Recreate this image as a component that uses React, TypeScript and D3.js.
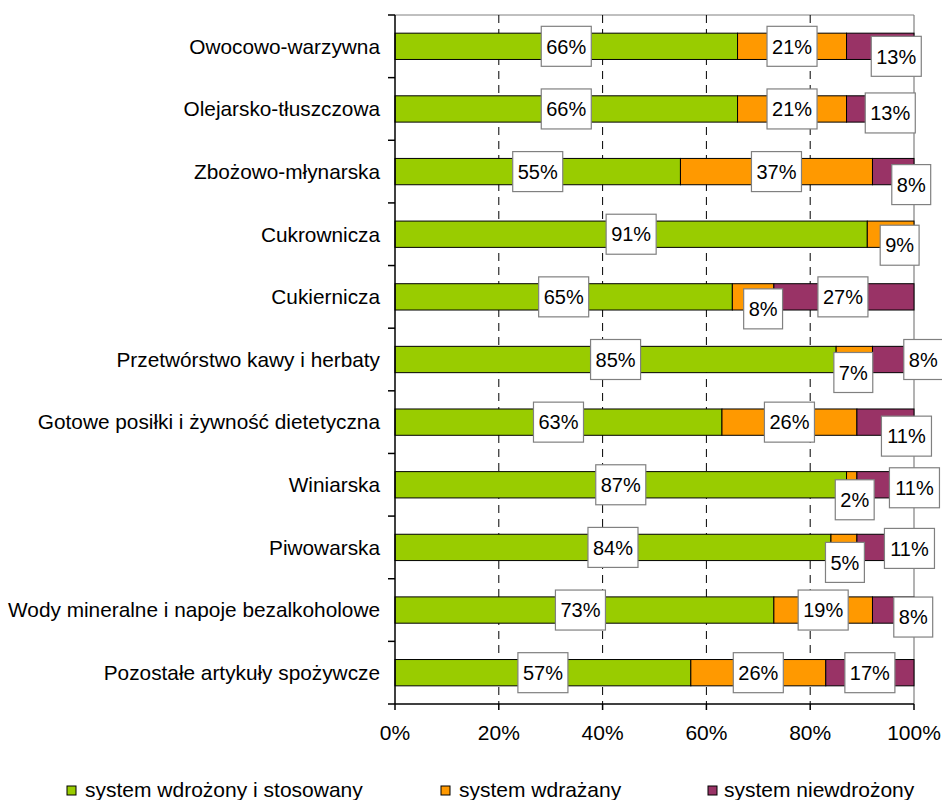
import React from "react";
import * as d3 from "d3";

const categories = [
  "Owocowo-warzywna",
  "Olejarsko-tłuszczowa",
  "Zbożowo-młynarska",
  "Cukrownicza",
  "Cukiernicza",
  "Przetwórstwo kawy i herbaty",
  "Gotowe posiłki i żywność dietetyczna",
  "Winiarska",
  "Piwowarska",
  "Wody mineralne i napoje bezalkoholowe",
  "Pozostałe artykuły spożywcze",
];

const implemented = [66, 66, 55, 91, 65, 85, 63, 87, 84, 73, 57];
const implementing = [21, 21, 37, 9, 8, 7, 26, 2, 5, 19, 26];
const notImplemented = [13, 13, 8, 0, 27, 8, 11, 11, 11, 8, 17];

const seriesNames = [
  "system wdrożony i stosowany",
  "system wdrażany",
  "system niewdrożony",
];
const seriesColors = ["#99CC00", "#FF9900", "#993366"];

const xTicks = [0, 20, 40, 60, 80, 100];

// manual label nudges (layout only), [dx, dy] per category per series
const labelNudge: [number, number][][] = [
  [[0, 0], [0, 0], [16, 10]],
  [[0, 0], [0, 0], [10, 4]],
  [[0, 0], [0, 0], [18, 13]],
  [[0, 0], [9, 11], [0, 0]],
  [[0, 0], [10, 12], [-1, 0]],
  [[0, 0], [-1, 13], [30, 0]],
  [[0, 0], [0, 0], [21, 14]],
  [[0, 0], [3, 15], [29, 3]],
  [[0, 0], [1, 15], [24, 1]],
  [[-4, 0], [0, 0], [20, 7]],
  [[0, 0], [0, 0], [0, 0]],
];

const W = 942;
const H = 800;
const left = 395;
const right = 914;
const top = 15;
const bottom = 704;
const font = "'Liberation Sans', Arial, sans-serif";

export default function App() {
  const x = d3.scaleLinear().domain([0, 100]).range([left, right]);
  const y = d3.scaleBand<string>().domain(categories).range([top, bottom]).padding(0);
  const bw = y.bandwidth();
  const bh = bw * 0.42;

  const seriesValues = [implemented, implementing, notImplemented];
  const stacked = d3
    .stack<number>()
    .keys(["0", "1", "2"])
    .value((i, key) => seriesValues[+key][i])(d3.range(categories.length));

  const labelWidth = (t: string) => {
    let w = 0;
    for (const ch of t) w += ch === "%" ? 0.889 : 0.556;
    return w * 20 + 10;
  };

  const legendX = [67, 441, 708];
  const legendGap = [18, 18, 16];

  return (
    <svg
      width={W}
      height={H}
      style={{ position: "absolute", left: 0, top: 0, background: "#fff" }}
      fontFamily={font}
    >
      {/* plot border top/right */}
      <line x1={left} x2={right} y1={top} y2={top} stroke="#808080" strokeWidth={1} />
      <line x1={right} x2={right} y1={top} y2={bottom} stroke="#808080" strokeWidth={1.2} />
      {/* gridlines */}
      {xTicks
        .filter((t) => t > 0 && t < 100)
        .map((t) => (
          <line
            key={"g" + t}
            x1={x(t)}
            x2={x(t)}
            y1={top}
            y2={bottom}
            stroke="#000"
            strokeWidth={1}
            strokeDasharray="8,6"
          />
        ))}
      {/* bars */}
      {stacked.map((layer, si) =>
        layer.map((d, ci) => {
          const w = x(d[1]) - x(d[0]);
          if (w <= 0) return null;
          return (
            <rect
              key={`b${si}-${ci}`}
              x={x(d[0])}
              y={(y(categories[ci]) as number) + (bw - bh) / 2}
              width={w}
              height={bh}
              fill={seriesColors[si]}
              stroke="#000"
              strokeWidth={1}
            />
          );
        })
      )}
      {/* axes */}
      <line x1={left} x2={left} y1={top} y2={bottom} stroke="#000" strokeWidth={1.5} />
      <line x1={left} x2={right} y1={bottom} y2={bottom} stroke="#000" strokeWidth={1.5} />
      {categories.map((c) => (
        <line
          key={"lt" + c}
          x1={left - 7}
          x2={left}
          y1={y(c) as number}
          y2={y(c) as number}
          stroke="#000"
          strokeWidth={1.5}
        />
      ))}
      <line x1={left - 7} x2={left} y1={bottom} y2={bottom} stroke="#000" strokeWidth={1.5} />
      {xTicks.map((t) => (
        <g key={"xt" + t}>
          <line x1={x(t)} x2={x(t)} y1={bottom} y2={bottom + 6} stroke="#000" strokeWidth={1.5} />
          <text x={x(t)} y={bottom + 36} textAnchor="middle" fontSize={21} fill="#000">
            {t + "%"}
          </text>
        </g>
      ))}
      {/* category labels */}
      {categories.map((c) => (
        <text
          key={"cl" + c}
          x={380}
          y={(y(c) as number) + bw / 2}
          dy="0.35em"
          textAnchor="end"
          fontSize={20.8}
          fill="#000"
        >
          {c}
        </text>
      ))}
      {/* data labels */}
      {stacked.map((layer, si) =>
        layer.map((d, ci) => {
          const v = seriesValues[si][ci];
          if (v <= 0) return null;
          const t = v + "%";
          const lw = labelWidth(t);
          const lh = 40;
          const [dx, dy] = labelNudge[ci][si];
          const cx = x((d[0] + d[1]) / 2) + dx;
          const cy = (y(categories[ci]) as number) + bw / 2 + dy;
          return (
            <g key={`l${si}-${ci}`}>
              <rect
                x={cx - lw / 2}
                y={cy - lh / 2}
                width={lw}
                height={lh}
                fill="#fff"
                stroke="#808080"
                strokeWidth={1.2}
              />
              <text x={cx} y={cy} dy="0.36em" textAnchor="middle" fontSize={20} fill="#000">
                {t}
              </text>
            </g>
          );
        })
      )}
      {/* legend */}
      {seriesNames.map((n, i) => {
        const lx = legendX[i];
        return (
          <g key={"lg" + i}>
            <rect x={lx} y={786} width={9} height={9} fill={seriesColors[i]} stroke="#000" strokeWidth={1} />
            <text x={lx + legendGap[i]} y={790} dy="0.35em" fontSize={21} fill="#000">
              {n}
            </text>
          </g>
        );
      })}
    </svg>
  );
}
